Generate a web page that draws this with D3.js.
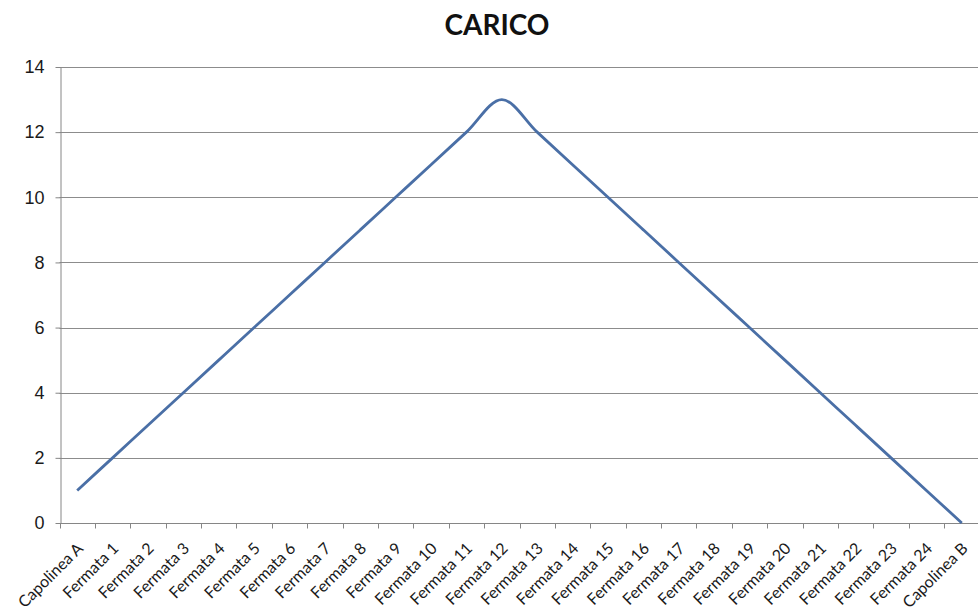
<!DOCTYPE html>
<html>
<head>
<meta charset="utf-8">
<script src="https://cdn.jsdelivr.net/npm/d3@7"></script>
<style>
  body { margin: 0; background: #fff; }
  svg { display: block; font-family: Lato, "Open Sans", sans-serif; }
</style>
</head>
<body>
<svg id="chart" width="978" height="612"></svg>
<script>
// Stops along the route and the load carried at each one
const stops = [
  "Capolinea A", "Fermata 1", "Fermata 2", "Fermata 3", "Fermata 4", "Fermata 5",
  "Fermata 6", "Fermata 7", "Fermata 8", "Fermata 9", "Fermata 10", "Fermata 11",
  "Fermata 12", "Fermata 13", "Fermata 14", "Fermata 15", "Fermata 16", "Fermata 17",
  "Fermata 18", "Fermata 19", "Fermata 20", "Fermata 21", "Fermata 22", "Fermata 23",
  "Fermata 24", "Capolinea B"
];
const carico = [1, 2, 3, 4, 5, 6, 7, 8, 9, 10, 11, 12, 13, 12, 11, 10, 9, 8, 7, 6, 5, 4, 3, 2, 1, 0];
const yTicks = [0, 2, 4, 6, 8, 10, 12, 14];
const title = "CARICO";

const svg = d3.select("#chart");
const margin = { left: 59.5, right: -1.5, top: 67, bottom: 89 };
const W = 978, H = 612;

const x = d3.scaleBand().domain(stops).range([margin.left, W - margin.right]).padding(0);
const y = d3.scaleLinear().domain([0, 14]).range([H - margin.bottom, margin.top]);

// Horizontal gridlines
svg.append("g")
  .selectAll("line")
  .data(yTicks.filter(d => d > 0))
  .join("line")
  .attr("x1", margin.left).attr("x2", W)
  .attr("y1", d => Math.round(y(d)) + 0.5).attr("y2", d => Math.round(y(d)) + 0.5)
  .attr("stroke", "#8c8c8c").attr("stroke-width", 1);

// Y axis
const yAxis = svg.append("g")
  .attr("transform", `translate(${Math.round(margin.left) + 0.5},0)`)
  .call(d3.axisLeft(y).tickValues(yTicks).tickSize(5).tickPadding(11).tickSizeOuter(0));
yAxis.select(".domain").attr("stroke", "#868686");
yAxis.selectAll(".tick line").attr("stroke", "#868686");
yAxis.selectAll(".tick text").attr("font-size", 18).attr("fill", "#1a1a1a");

// X axis with ticks at band edges
const xAxisY = Math.round(y(0)) + 0.5;
const xg = svg.append("g");
xg.append("line")
  .attr("x1", margin.left).attr("x2", W)
  .attr("y1", xAxisY).attr("y2", xAxisY)
  .attr("stroke", "#868686");
xg.selectAll("line.tk")
  .data(stops)
  .join("line")
  .attr("class", "tk")
  .attr("x1", d => Math.round(x(d)) + 0.5).attr("x2", d => Math.round(x(d)) + 0.5)
  .attr("y1", xAxisY).attr("y2", xAxisY + 5)
  .attr("stroke", "#868686");
xg.selectAll("text")
  .data(stops)
  .join("text")
  .attr("transform", d => `translate(${x(d) + x.bandwidth() / 2 + 3},${xAxisY + 22}) rotate(-45)`)
  .attr("text-anchor", "end")
  .attr("dy", "0.35em")
  .attr("font-size", 16)
  .attr("fill", "#1a1a1a")
  .text(d => d);

// Smoothed load line
const line = d3.line()
  .x((d, i) => x(stops[i]) + x.bandwidth() / 2)
  .y(d => y(d))
  .curve(d3.curveCardinal.tension(0));

svg.append("path")
  .datum(carico)
  .attr("d", line)
  .attr("fill", "none")
  .attr("stroke", "#4a6fa6")
  .attr("stroke-width", 2.8)
  .attr("stroke-linejoin", "round");

// Title
svg.append("text")
  .attr("x", 497).attr("y", 35)
  .attr("text-anchor", "middle")
  .attr("font-size", 28)
  .attr("font-weight", "bold")
  .attr("fill", "#111")
  .text(title);
</script>
</body>
</html>
